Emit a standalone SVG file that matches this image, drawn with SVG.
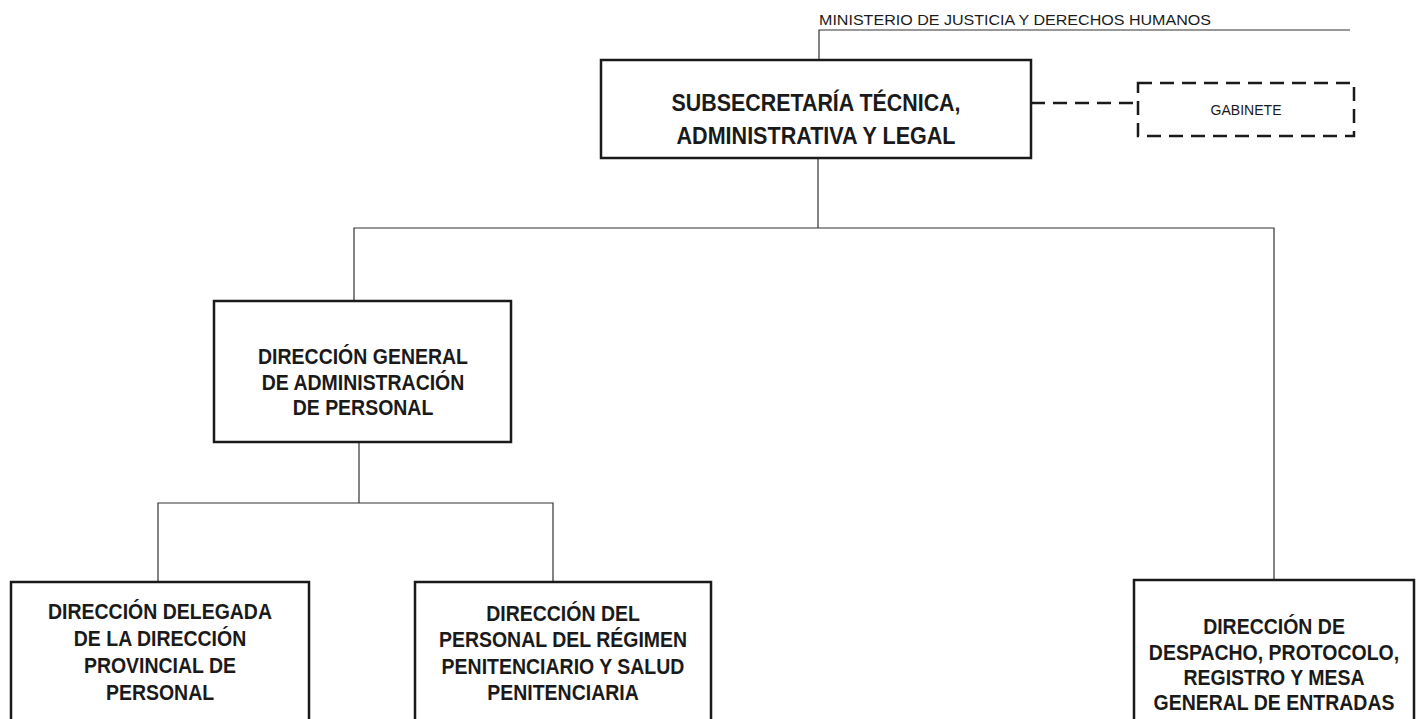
<svg xmlns="http://www.w3.org/2000/svg" width="1416" height="719" viewBox="0 0 1416 719">
<style>
.box{fill:#fff;stroke:#1a1a1a;stroke-width:2.5}
.dbox{fill:#fff;stroke:#1a1a1a;stroke-width:2.5;stroke-dasharray:14 8}
.ln{fill:none;stroke:#333;stroke-width:1.2}
.dln{fill:none;stroke:#1a1a1a;stroke-width:2.5;stroke-dasharray:14 8}
.t{font-family:"Liberation Sans",Arial,sans-serif;font-weight:bold;font-size:22px;fill:#1a1a1a;text-anchor:middle}
.tb{font-family:"Liberation Sans",Arial,sans-serif;font-weight:bold;font-size:23px;fill:#1a1a1a;text-anchor:middle}
.tn{font-family:"Liberation Sans",Arial,sans-serif;font-size:15px;fill:#1a1a1a}
</style>
<rect width="1416" height="719" fill="#fff"/>
<g id="connectors">
<path class="ln" d="M819 60V30H1350"/>
<path class="dln" d="M1031 103H1138"/>
<path class="ln" d="M818 158V228M354 301V228H1274V580"/>
<path class="ln" d="M359 442V503M158 582V503H553V582"/>
</g>
<g id="ministerio">
<text class="tn" x="819" y="25" textLength="392" lengthAdjust="spacingAndGlyphs">MINISTERIO DE JUSTICIA Y DERECHOS HUMANOS</text>
</g>
<g id="subsecretaria">
<rect class="box" x="601" y="60" width="430" height="98"/>
<text class="tb" x="816" y="111" textLength="289" lengthAdjust="spacingAndGlyphs">SUBSECRETARÍA TÉCNICA,</text>
<text class="tb" x="816" y="144" textLength="279" lengthAdjust="spacingAndGlyphs">ADMINISTRATIVA Y LEGAL</text>
</g>
<g id="gabinete">
<rect class="dbox" x="1138" y="83" width="216" height="53"/>
<text class="tn" x="1246" y="115" text-anchor="middle" textLength="71" lengthAdjust="spacingAndGlyphs">GABINETE</text>
</g>
<g id="dg-personal">
<rect class="box" x="214" y="301" width="297" height="141"/>
<g transform="translate(363,0) scale(0.886,1)">
<text class="t" x="0" y="364">DIRECCIÓN GENERAL</text>
<text class="t" x="0" y="390">DE ADMINISTRACIÓN</text>
<text class="t" x="0" y="415">DE PERSONAL</text>
</g>
</g>
<g id="delegada">
<rect class="box" x="11" y="582" width="298" height="140"/>
<g transform="translate(160,0) scale(0.886,1)">
<text class="t" x="0" y="619">DIRECCIÓN DELEGADA</text>
<text class="t" x="0" y="646">DE LA DIRECCIÓN</text>
<text class="t" x="0" y="673">PROVINCIAL DE</text>
<text class="t" x="0" y="700">PERSONAL</text>
</g>
</g>
<g id="regimen">
<rect class="box" x="415" y="582" width="296" height="140"/>
<g transform="translate(563,0) scale(0.886,1)">
<text class="t" x="0" y="621">DIRECCIÓN DEL</text>
<text class="t" x="0" y="647">PERSONAL DEL RÉGIMEN</text>
<text class="t" x="0" y="674">PENITENCIARIO Y SALUD</text>
<text class="t" x="0" y="700">PENITENCIARIA</text>
</g>
</g>
<g id="despacho">
<rect class="box" x="1134" y="580" width="280" height="142"/>
<g transform="translate(1274,0) scale(0.886,1)">
<text class="t" x="0" y="634">DIRECCIÓN DE</text>
<text class="t" x="0" y="660">DESPACHO, PROTOCOLO,</text>
<text class="t" x="0" y="685">REGISTRO Y MESA</text>
<text class="t" x="0" y="710">GENERAL DE ENTRADAS</text>
</g>
</g>
</svg>
